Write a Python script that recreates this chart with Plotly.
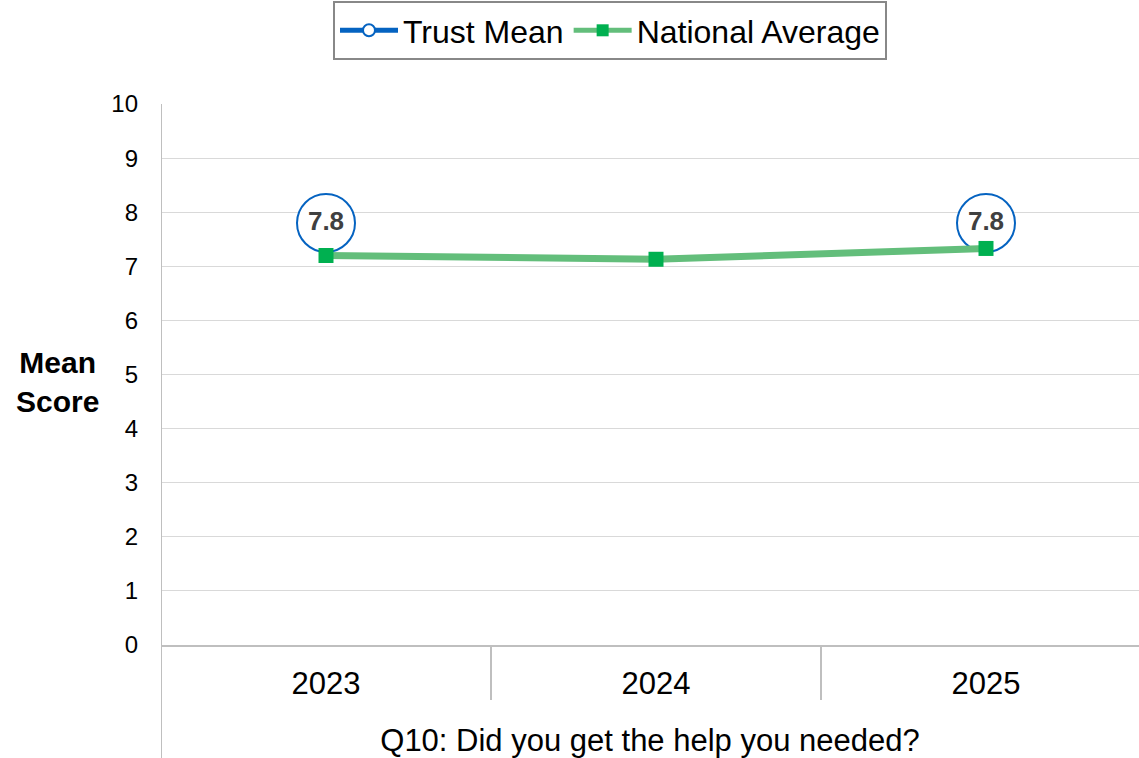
import plotly.graph_objects as go

YEARS = ["2023", "2024", "2025"]
TRUST_MEAN = [7.8, None, 7.8]
NATIONAL_AVG = [7.2, 7.13, 7.33]
Y_TICKS = list(range(0, 11))

BLUE = "#0563C1"
GREEN_LINE = "#63BE7B"
GREEN_MARK = "#00B050"
GRID = "#D9D9D9"
AXIS = "#BFBFBF"

xpos = list(range(len(YEARS)))
trust_text = [f"<b>{v:.1f}</b>" if v is not None else "" for v in TRUST_MEAN]

fig = go.Figure()
fig.add_trace(
    go.Scatter(
        x=xpos,
        y=TRUST_MEAN,
        name="Trust Mean",
        mode="lines+markers+text",
        connectgaps=False,
        line=dict(color=BLUE, width=7),
        marker=dict(symbol="circle", size=58, color="white", line=dict(color=BLUE, width=2)),
        text=trust_text,
        textposition="middle center",
        textfont=dict(family="Arial", size=26, color="#404040"),
    )
)
fig.add_trace(
    go.Scatter(
        x=xpos,
        y=NATIONAL_AVG,
        name="National Average",
        mode="lines+markers",
        line=dict(color=GREEN_LINE, width=7),
        marker=dict(symbol="square", size=15, color=GREEN_MARK),
    )
)

fig.update_layout(
    width=1139,
    height=758,
    margin=dict(l=161, r=0, t=104, b=113, autoexpand=False),
    paper_bgcolor="white",
    plot_bgcolor="white",
    font=dict(family="Arial", color="black"),
    showlegend=True,
    legend=dict(
        orientation="h",
        xref="container",
        yref="container",
        x=610 / 1139,
        xanchor="center",
        y=1 - 1 / 758,
        yanchor="top",
        bordercolor="#888888",
        borderwidth=2,
        bgcolor="white",
        font=dict(size=32, color="black"),
        itemsizing="constant",
        itemwidth=58,
        tracegroupgap=0,
    ),
    annotations=[
        dict(
            text="<b>Mean<br>Score</b>",
            xref="paper",
            yref="paper",
            x=(57 - 161) / 978,
            y=(645 - 382) / 541,
            xanchor="center",
            yanchor="middle",
            showarrow=False,
            font=dict(size=30, color="black"),
        )
    ],
)

fig.update_xaxes(
    range=[-0.5, 2.5 - 12 / 330],
    tickvals=xpos,
    ticktext=YEARS,
    tickfont=dict(size=31, color="black"),
    ticks="",
    ticklabelstandoff=10,
    showgrid=False,
    zeroline=False,
    showline=True,
    linecolor=AXIS,
    linewidth=2,
    title=dict(text="Q10: Did you get the help you needed?", font=dict(size=31, color="black"), standoff=29),
)
fig.update_yaxes(
    range=[0, 10],
    tickvals=Y_TICKS,
    tickfont=dict(size=24, color="black"),
    ticks="",
    ticklabelstandoff=22,
    showgrid=True,
    gridcolor=GRID,
    gridwidth=1,
    zeroline=False,
    showline=False,
)

# left axis line running down through the category area
fig.add_shape(type="line", xref="x", yref="paper", x0=-0.5, x1=-0.5, y0=1, y1=-113 / 541,
              line=dict(color=AXIS, width=2))
# category separators
for sep in [0.5, 1.5]:
    fig.add_shape(type="line", xref="x", yref="paper", x0=sep, x1=sep, y0=0, y1=-55 / 541,
                  line=dict(color=AXIS, width=2))

fig.write_html(
    "out.html",
    config={"displayModeBar": False},
    post_script="document.body.style.margin = '0';",
)
